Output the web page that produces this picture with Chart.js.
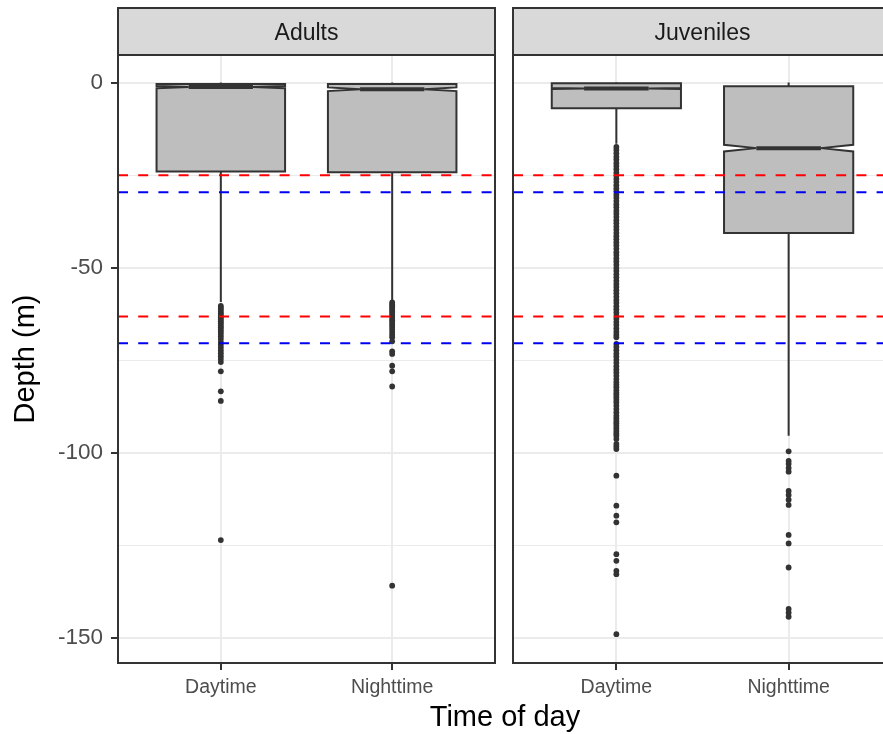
<!DOCTYPE html>
<html><head><meta charset="utf-8">
<script src="https://cdn.jsdelivr.net/npm/chart.js@4/dist/chart.umd.min.js"></script>
<style>
html,body{margin:0;padding:0;background:#fff;overflow:hidden;width:883px;height:734px;}
#wrap{position:relative;width:883px;height:734px;overflow:hidden;background:#fff;}
canvas{position:absolute;top:0;left:0;}
</style></head><body>
<div id="wrap"><canvas id="cA" width="499" height="734"></canvas><canvas id="cJ" width="900" height="734"></canvas></div>
<script>
// ---- data ----
const panels = ['Adults', 'Juveniles'];
const times = ['Daytime', 'Nighttime'];
const yTickValues = [-150, -100, -50, 0];
const yTickLabels = ['-150', '-100', '-50', '0'];
const yMinorValues = [-125, -75, -25];
const yLimits = [-156.8, 7.46];
const xLimits = [0.4, 2.6];
const refRed = [-25.0, -63.2];
const refBlue = [-29.6, -70.4];

// Adults (Daytime, Nighttime)
const adultsQ1 = [-24.0, -24.2];
const adultsMedian = [-1.2, -1.8];
const adultsQ3 = [-0.4, -0.4];
const adultsNotchLow = [-1.5, -2.3];
const adultsNotchHigh = [-0.9, -1.3];
const adultsWhiskerLow = [-59.3, -59.0];
const adultsWhiskerHigh = [0, 0];
const adultsDayOutliers = [-60.3, -60.8, -61.3, -61.9, -62.4, -62.9, -63.4, -63.9, -64.5, -65.0, -65.6, -66.1, -66.7, -67.3, -67.9, -68.6, -69.3, -70.1, -70.8, -71.6, -72.4, -73.1, -73.9, -74.7, -75.5, -78.0, -83.4, -86.0, -123.6];
const adultsNightOutliers = [-59.4, -59.9, -60.4, -60.9, -61.4, -61.9, -62.5, -63.0, -63.6, -64.2, -64.8, -65.4, -66.0, -66.7, -67.4, -68.1, -68.8, -69.9, -72.6, -73.3, -76.5, -78.0, -82.1, -135.9];

// Juveniles (Daytime, Nighttime)
const juvQ1 = [-6.9, -40.6];
const juvMedian = [-1.6, -17.7];
const juvQ3 = [-0.2, -1.0];
const juvNotchLow = [-1.75, -18.6];
const juvNotchHigh = [-1.45, -16.8];
const juvWhiskerLow = [-16.5, -95.4];
const juvWhiskerHigh = [0, 0];
const juvDayOutliers = [-17.4, -18.2, -19.1, -20.0, -20.8, -21.7, -22.5, -23.4, -24.3, -25.1, -26.0, -26.8, -27.7, -28.6, -29.4, -30.3, -31.1, -32.0, -32.9, -33.7, -34.6, -35.4, -36.3, -37.2, -38.0, -38.9, -39.7, -40.6, -41.5, -42.3, -43.2, -44.0, -44.9, -45.8, -46.6, -47.5, -48.3, -49.2, -50.1, -50.9, -51.8, -52.6, -53.5, -54.4, -55.2, -56.1, -56.9, -57.8, -58.7, -59.5, -60.4, -61.2, -62.1, -63.0, -63.8, -64.7, -65.5, -66.4, -67.3, -68.1, -68.8, -70.6, -71.4, -72.3, -73.2, -74.0, -74.9, -75.7, -76.6, -77.5, -78.3, -79.2, -80.1, -80.9, -81.6, -82.3, -83.1, -83.8, -84.3, -85.0, -85.7, -86.4, -87.3, -88.2, -89.1, -90.0, -90.7, -91.4, -92.0, -92.7, -93.4, -94.1, -94.8, -95.4, -96.3, -97.6, -98.3, -99.0, -106.2, -114.3, -117.0, -118.8, -127.4, -129.2, -131.9, -132.8, -149.0];
const juvNightOutliers = [-99.6, -102.2, -103.0, -104.1, -105.1, -110.3, -111.4, -112.7, -114.1, -122.2, -124.5, -131.0, -142.2, -143.2, -144.3];

// ---- rendering ----
const FONT = "'Liberation Sans', Arial, Helvetica, sans-serif";
Chart.defaults.font.family = FONT;
const BOX_HALF = 0.375;
const DARK = '#333333';

function makePanelPlugin(stats) {
  return {
    id: 'panelDecor',
    beforeDraw(chart) {
      const ctx = chart.ctx, a = chart.chartArea, top = chart.scales.xTop.top;
      ctx.save();
      ctx.fillStyle = '#FFFFFF';
      ctx.fillRect(a.left, a.top, a.right - a.left, a.bottom - a.top);
      ctx.fillStyle = '#D9D9D9';
      ctx.fillRect(a.left, top, a.right - a.left, a.top - top);
      ctx.strokeStyle = DARK; ctx.lineWidth = 2;
      ctx.strokeRect(a.left, top, a.right - a.left, a.top - top);
      ctx.restore();
    },
    beforeDatasetsDraw(chart) {
      const ctx = chart.ctx, a = chart.chartArea;
      const xs = chart.scales.x, ys = chart.scales.y;
      const Y = v => ys.getPixelForValue(v);
      ctx.save();
      ctx.beginPath(); ctx.rect(a.left, a.top, a.right - a.left, a.bottom - a.top); ctx.clip();
      stats.q1.forEach((_, i) => {
        const c = i + 1;
        const xc = xs.getPixelForValue(c);
        const xmin = xs.getPixelForValue(c - BOX_HALF), xmax = xs.getPixelForValue(c + BOX_HALF);
        const ind = (xmax - xmin) * 0.25;
        ctx.strokeStyle = DARK; ctx.lineWidth = 2; ctx.lineCap = 'butt';
        ctx.beginPath();
        ctx.moveTo(xc, Y(stats.q3[i])); ctx.lineTo(xc, Y(stats.hi[i]));
        ctx.moveTo(xc, Y(stats.q1[i])); ctx.lineTo(xc, Y(stats.lo[i]));
        ctx.stroke();
        ctx.beginPath();
        ctx.moveTo(xmin, Y(stats.q3[i]));
        ctx.lineTo(xmin, Y(stats.nhi[i]));
        ctx.lineTo(xmin + ind, Y(stats.med[i]));
        ctx.lineTo(xmin, Y(stats.nlo[i]));
        ctx.lineTo(xmin, Y(stats.q1[i]));
        ctx.lineTo(xmax, Y(stats.q1[i]));
        ctx.lineTo(xmax, Y(stats.nlo[i]));
        ctx.lineTo(xmax - ind, Y(stats.med[i]));
        ctx.lineTo(xmax, Y(stats.nhi[i]));
        ctx.lineTo(xmax, Y(stats.q3[i]));
        ctx.closePath();
        ctx.fillStyle = '#BEBEBE'; ctx.fill();
        ctx.lineJoin = 'miter'; ctx.miterLimit = 2.5;
        ctx.stroke();
        ctx.lineWidth = 4;
        ctx.beginPath();
        ctx.moveTo(xmin + ind, Y(stats.med[i])); ctx.lineTo(xmax - ind, Y(stats.med[i]));
        ctx.stroke();
      });
      ctx.restore();
    },
    afterDatasetsDraw(chart) {
      const ctx = chart.ctx, a = chart.chartArea;
      ctx.save();
      ctx.strokeStyle = DARK; ctx.lineWidth = 2;
      ctx.strokeRect(a.left, a.top, a.right - a.left, a.bottom - a.top);
      ctx.restore();
    }
  };
}

const isMajor = c => c.tick && yTickValues.includes(c.tick.value);

function buildChart(id, isLeft, panelName, stats, outliers) {
  const datasets = [];
  refRed.forEach(v => datasets.push({ data: [{x: xLimits[0], y: v}, {x: xLimits[1], y: v}], showLine: true, borderColor: '#FF0000', borderWidth: 2, borderDash: [10, 10.2], pointRadius: 0, order: 0 }));
  refBlue.forEach(v => datasets.push({ data: [{x: xLimits[0], y: v}, {x: xLimits[1], y: v}], showLine: true, borderColor: '#0000F0', borderWidth: 2, borderDash: [10, 10.2], pointRadius: 0, order: 0 }));
  outliers.forEach((arr, i) => datasets.push({ data: arr.map(v => ({x: i + 1, y: v})), backgroundColor: DARK, borderColor: DARK, borderWidth: 0, pointRadius: 2.9, order: 1 }));

  return new Chart(document.getElementById(id), {
    type: 'scatter',
    data: { datasets },
    plugins: [makePanelPlugin(stats)],
    options: {
      responsive: false, animation: false, events: [],
      layout: { padding: isLeft ? {left: 0, right: 2, top: 8, bottom: 0} : {left: 118, right: 8, top: 8, bottom: 0} },
      plugins: {
        legend: { display: false }, tooltip: { enabled: false },
        title: isLeft ? { display: false } : { display: true, position: 'bottom', text: 'Time of day', color: '#000000', font: { size: 29, lineHeight: 1, weight: 'normal' }, padding: { top: 4, bottom: 1.5 } }
      },
      scales: {
        x: {
          type: 'linear', position: 'bottom', min: xLimits[0], max: xLimits[1],
          afterBuildTicks: s => { s.ticks = times.map((t, i) => ({ value: i + 1 })); },
          afterFit: s => { s.height = isLeft ? 71 : 36.5; },
          ticks: { autoSkip: false, maxRotation: 0, padding: 6, color: '#4D4D4D', font: { size: 19.5 }, callback: v => times[Math.round(v) - 1] },
          grid: { color: '#EBEBEB', lineWidth: 2, drawTicks: true, tickLength: 7, tickColor: DARK, tickWidth: 2 },
          border: { display: false }
        },
        xTop: {
          type: 'linear', position: 'top', min: xLimits[0], max: xLimits[1],
          afterFit: s => { s.height = 47; },
          ticks: { display: false }, grid: { display: false, drawTicks: false }, border: { display: false },
          title: { display: true, text: panelName, color: '#1A1A1A', font: { size: 23 }, padding: { top: 12, bottom: 0 } }
        },
        y: {
          type: 'linear', min: yLimits[0], max: yLimits[1],
          afterBuildTicks: s => { s.ticks = yTickValues.concat(yMinorValues).sort((a, b) => a - b).map(v => ({ value: v })); },
          afterFit: s => { s.width = isLeft ? 118 : 395; },
          ticks: { display: isLeft, autoSkip: false, padding: 8, color: '#4D4D4D', font: { size: 22.5 }, callback: v => { const k = yTickValues.indexOf(v); return k >= 0 ? yTickLabels[k] : ''; } },
          grid: { color: '#EBEBEB', lineWidth: c => isMajor(c) ? 2 : 1, drawTicks: isLeft, tickLength: 7, tickColor: c => isMajor(c) ? DARK : 'rgba(0,0,0,0)', tickWidth: 2 },
          border: { display: false },
          title: { display: isLeft, text: 'Depth (m)', color: '#000000', font: { size: 29 }, padding: { top: 9, bottom: 0 } }
        }
      }
    }
  });
}

buildChart('cA', true, panels[0],
  { q1: adultsQ1, med: adultsMedian, q3: adultsQ3, nlo: adultsNotchLow, nhi: adultsNotchHigh, lo: adultsWhiskerLow, hi: adultsWhiskerHigh },
  [adultsDayOutliers, adultsNightOutliers]);
buildChart('cJ', false, panels[1],
  { q1: juvQ1, med: juvMedian, q3: juvQ3, nlo: juvNotchLow, nhi: juvNotchHigh, lo: juvWhiskerLow, hi: juvWhiskerHigh },
  [juvDayOutliers, juvNightOutliers]);
</script>
</body></html>
